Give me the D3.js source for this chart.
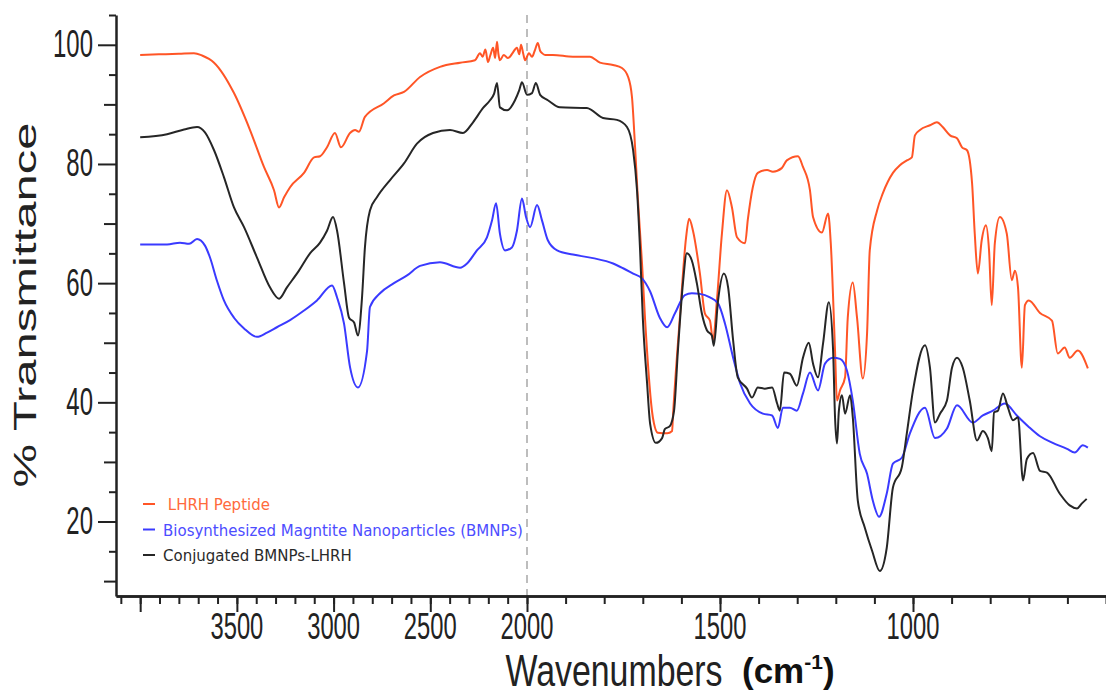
<!DOCTYPE html>
<html>
<head>
<meta charset="utf-8">
<script src="https://cdn.jsdelivr.net/npm/d3@7"></script>
<style>
  body { margin: 0; background: #fff; }
  svg { display: block; }
</style>
</head>
<body>
<svg id="chart" width="1106" height="696"></svg>
<script>
// FTIR spectra: wavenumber (cm-1) and % transmittance for each sample
const peptideWn = [4000,3900,3800,3722,3680,3618,3515,3432,3360,3308,3282,3256,3225,3153,3101,3070,3034,2993,2962,2915,2889,2869,2838,2739,2688,2636,2553,2450,2346,2269,2243,2230,2215,2202,2190,2175,2165,2155,2148,2140,2120,2100,2088,2075,2060,2052,2040,2031,2020,2010,1995,1987,1980,1972,1966,1961,1953,1933,1881,1837,1811,1777,1754,1738,1728,1720,1713,1702,1694,1674,1661,1637,1624,1622,1604,1588,1580,1570,1552,1539,1526,1518,1508,1495,1482,1469,1456,1435,1428,1415,1402,1378,1363,1340,1327,1298,1285,1267,1259,1236,1220,1213,1202,1197,1189,1176,1169,1156,1145,1130,1119,1112,1093,1078,1052,1034,1016,1003,995,982,956,938,923,904,886,873,860,847,840,832,822,811,803,796,788,775,757,744,736,728,718,710,700,671,640,625,607,594,573,547];
const peptideT = [98.3,98.4,98.5,98.6,98.2,97.0,91.9,85.7,79.5,75.6,72.7,74.4,76.1,78.5,81.1,81.3,82.8,85.2,82.8,85.2,85.7,85.4,87.9,90.2,91.5,92.1,94.6,96.3,97.0,97.4,98.6,98.0,99.2,97.1,98.2,99.5,97.8,100.5,98.5,97.4,98.3,97.8,98.0,98.6,99.3,99.5,98.4,100.0,98.6,97.4,98.6,98.0,99.0,100.3,99.0,98.6,98.3,98.3,98.0,98.0,97.0,96.6,96.1,94.6,91.2,82.8,74.4,63.3,53.8,37.5,34.9,34.8,35.2,37.5,54.2,67.6,70.8,68.8,61.6,54.9,53.7,50.4,57.1,68.3,75.6,72.7,67.7,66.7,70.6,76.1,78.5,79.0,78.7,79.3,80.6,81.3,79.5,75.6,71.1,68.5,71.7,66.7,48.7,40.3,42.0,44.2,54.2,60.1,54.2,44.0,51.6,65.5,72.2,75.1,78.5,79.8,80.6,81.1,84.8,85.7,86.5,87.0,86.2,84.8,84.3,82.8,82.3,76.8,68.3,61.6,67.2,69.7,65.5,56.3,66.7,71.1,68.3,60.5,62.1,59.3,45.8,56.3,57.1,55.0,53.7,48.2,49.2,47.5,48.7,45.7];

const bmnpWn = [4000,3861,3794,3747,3706,3665,3639,3603,3567,3515,3463,3396,3344,3293,3225,3153,3086,3008,2982,2946,2915,2874,2827,2812,2760,2688,2620,2553,2450,2346,2310,2259,2207,2181,2160,2140,2114,2078,2052,2026,2005,1992,1974,1961,1946,1922,1881,1829,1777,1751,1725,1702,1681,1656,1637,1617,1591,1573,1552,1526,1505,1487,1466,1448,1422,1389,1365,1350,1337,1319,1301,1285,1267,1246,1228,1207,1189,1171,1156,1138,1119,1104,1088,1068,1052,1029,1008,969,943,912,886,845,819,793,762,731,702,671,638,601,581,560,547];
const bmnpT = [66.5,66.5,66.8,66.6,67.4,66.3,64.3,60.4,57.1,54.2,52.4,51.0,51.7,52.6,53.8,55.4,57.1,59.6,57.6,53.2,45.9,42.5,48.6,56.0,58.3,60.0,61.3,62.9,63.5,62.6,63.3,65.5,67.7,70.5,73.4,68.3,65.5,66.0,68.8,74.2,71.1,69.4,73.1,70.5,67.2,65.5,64.8,64.2,63.3,62.5,61.6,60.8,58.6,54.2,52.6,54.9,58.0,58.3,58.2,57.6,56.6,53.2,47.5,43.2,39.8,38.1,37.8,35.7,39.1,39.1,38.6,41.5,45.0,42.0,46.5,47.5,47.3,45.3,40.3,31.4,28.0,23.5,20.8,24.7,29.7,30.7,34.8,39.1,34.0,35.6,39.5,36.6,37.8,38.6,39.8,37.8,36.0,34.3,33.2,32.2,31.6,32.8,32.4];

const conjWn = [4000,3861,3773,3706,3665,3618,3567,3515,3463,3396,3329,3282,3241,3179,3122,3070,3034,3003,2982,2946,2920,2894,2874,2853,2838,2812,2776,2708,2636,2569,2486,2398,2331,2279,2227,2191,2170,2155,2140,2103,2062,2040,2026,2000,1987,1977,1966,1946,1915,1845,1803,1767,1741,1725,1715,1707,1700,1689,1681,1666,1650,1643,1630,1619,1609,1596,1586,1573,1560,1547,1534,1521,1516,1505,1490,1479,1466,1454,1430,1417,1402,1384,1365,1352,1345,1334,1319,1301,1285,1270,1259,1246,1233,1218,1207,1202,1197,1192,1184,1176,1163,1156,1143,1125,1106,1086,1068,1052,1029,1016,1000,969,956,943,930,912,899,886,871,853,834,819,806,796,790,780,767,754,741,728,715,705,689,671,653,620,594,575,563,550];
const conjT = [84.5,85.0,85.8,86.2,85.3,82.3,77.8,72.7,69.4,64.3,59.3,57.4,59.3,62.1,65.0,66.8,68.8,71.1,68.8,60.0,54.2,53.4,51.2,57.6,66.0,72.2,74.4,77.3,80.1,83.4,85.2,85.7,85.2,87.0,89.4,90.7,91.8,93.6,89.5,89.0,90.7,92.4,93.7,91.6,91.9,93.6,91.6,90.7,89.5,89.4,87.7,87.4,86.2,82.3,75.6,65.5,54.2,43.3,36.4,33.2,34.0,35.5,36.0,38.6,48.7,60.0,65.0,63.8,60.0,54.9,52.1,51.2,49.5,57.1,61.6,59.3,50.4,44.2,42.3,40.8,42.5,42.3,42.5,39.8,38.6,45.0,44.8,42.8,47.5,50.0,46.5,44.2,49.9,56.8,48.7,37.5,33.1,38.6,41.2,38.1,41.2,37.5,23.5,19.0,15.1,11.7,15.6,25.7,29.1,34.8,42.0,49.6,45.8,36.6,38.1,40.3,45.8,47.5,45.8,40.3,33.6,35.2,34.0,31.8,38.3,38.6,41.5,39.1,37.0,37.5,26.9,30.5,31.5,28.5,28.2,24.7,22.7,22.2,23.0,23.8];

const seriesNames = [" LHRH Peptide", "Biosynthesized Magntite Nanoparticles (BMNPs)", "Conjugated BMNPs-LHRH"];
const seriesColors = ["#ff5526", "#3a3aff", "#262626"];
const legendTextColors = ["#ff6a3c", "#4d4dff", "#2a2a2a"];

const xTickValues = [4000, 3500, 3000, 2500, 2000, 1500, 1000];
const xTickLabels = ["", "3500", "3000", "2500", "2000", "1500", "1000"];
const yTickValues = [20, 40, 60, 80, 100];
const yTickLabels = ["20", "40", "60", "80", "100"];

const svg = d3.select("#chart");
svg.append("rect").attr("width", 1106).attr("height", 696).attr("fill", "#fff");

// wavenumber axis with a scale change at 2000 cm-1 (double resolution below it)
const x = d3.scaleLinear().domain([4125, 2000, 500]).range([116, 527, 1106]);
const y = d3.scaleLinear().domain([7.5, 105]).range([596, 15]);

const axisColor = "#222";
const numFont = "'Liberation Sans', Arial, sans-serif";

// dashed marker at the scale break
svg.append("line")
  .attr("x1", x(2000)).attr("x2", x(2000))
  .attr("y1", y(105)).attr("y2", y(7.5))
  .attr("stroke", "#bdbdbd").attr("stroke-width", 2)
  .attr("stroke-dasharray", "8,6");

// x axis: minor ticks every 100 cm-1, major every 500
const xMinor = svg.append("g").attr("transform", `translate(0,${y(7.5)})`)
  .call(d3.axisBottom(x).tickValues(d3.range(4100, 499, -100)).tickSize(8).tickSizeOuter(0).tickFormat(""));
const xMajor = svg.append("g").attr("transform", `translate(0,${y(7.5)})`)
  .call(d3.axisBottom(x).tickValues(xTickValues).tickSize(16).tickSizeOuter(0).tickFormat(""));
[xMinor, xMajor].forEach(g => {
  g.selectAll("line").attr("stroke", axisColor).attr("stroke-width", 2);
  g.select(".domain").attr("stroke", axisColor).attr("stroke-width", 2.5);
});

svg.append("g").selectAll("text").data(xTickValues).join("text")
  .attr("transform", d => `translate(${x(d)},639) scale(0.66,1)`)
  .attr("text-anchor", "middle")
  .attr("font-family", numFont).attr("font-size", 36).attr("fill", "#222")
  .text((d, i) => xTickLabels[i]);

// y axis: ticks every 5 %, longer every 10 %, longest every 20 %
const yAll = d3.range(10, 106, 5);
const tickLen = v => (v % 20 === 0 ? 18 : v % 10 === 0 ? 12 : 7);
const yAxisG = svg.append("g").attr("transform", `translate(116,0)`)
  .call(d3.axisLeft(y).tickValues(yAll).tickSizeOuter(0).tickFormat(""));
yAxisG.selectAll(".tick line").attr("x2", d => -tickLen(d)).attr("stroke", axisColor).attr("stroke-width", 2);
yAxisG.select(".domain").attr("stroke", axisColor).attr("stroke-width", 2.5);

svg.append("g").selectAll("text").data(yTickValues).join("text")
  .attr("transform", d => `translate(93,${y(d) + 12.5}) scale(0.63,1)`)
  .attr("text-anchor", "end")
  .attr("font-family", numFont).attr("font-size", 38).attr("fill", "#222")
  .text((d, i) => yTickLabels[i]);

// axis titles
svg.append("text")
  .attr("transform", `translate(614,686) scale(0.77,1)`)
  .attr("text-anchor", "middle")
  .attr("font-family", numFont).attr("font-size", 44).attr("fill", "#222")
  .text("Wavenumbers");

const unit = svg.append("text")
  .attr("x", 742).attr("y", 683)
  .attr("font-family", "'Liberation Sans', Arial, sans-serif")
  .attr("font-weight", "bold").attr("font-size", 35).attr("fill", "#111");
unit.append("tspan").text("(cm");
unit.append("tspan").attr("dy", -14).attr("font-size", 21).text("-1");
unit.append("tspan").attr("dy", 14).text(")");

svg.append("text")
  .attr("transform", `translate(36,305) scale(0.65,1) rotate(-90)`)
  .attr("text-anchor", "middle")
  .attr("font-family", numFont).attr("font-size", 49).attr("fill", "#222")
  .text("% Transmittance");

// spectra
const line = d3.line()
  .x(d => x(d[0]))
  .y(d => y(d[1]))
  .curve(d3.curveMonotoneX);

const series = [
  { wn: peptideWn, t: peptideT },
  { wn: bmnpWn, t: bmnpT },
  { wn: conjWn, t: conjT }
];

svg.append("g").selectAll("path").data(series).join("path")
  .attr("d", s => line(s.wn.map((w, i) => [w, s.t[i]])))
  .attr("fill", "none")
  .attr("stroke", (s, i) => seriesColors[i])
  .attr("stroke-width", 2)
  .attr("stroke-linejoin", "round");

// legend
const legend = svg.append("g").selectAll("g").data(seriesNames).join("g")
  .attr("transform", (d, i) => `translate(143,${510 + i * 25.5})`);
legend.append("line")
  .attr("x1", 0).attr("x2", 12).attr("y1", -6).attr("y2", -6)
  .attr("stroke", (d, i) => seriesColors[i]).attr("stroke-width", 2);
legend.append("text")
  .attr("x", 20).attr("y", 0)
  .attr("xml:space", "preserve")
  .style("white-space", "pre")
  .attr("font-family", "'DejaVu Sans', Verdana, sans-serif")
  .attr("font-size", 15)
  .attr("fill", (d, i) => legendTextColors[i])
  .text(d => d);
</script>
</body>
</html>
